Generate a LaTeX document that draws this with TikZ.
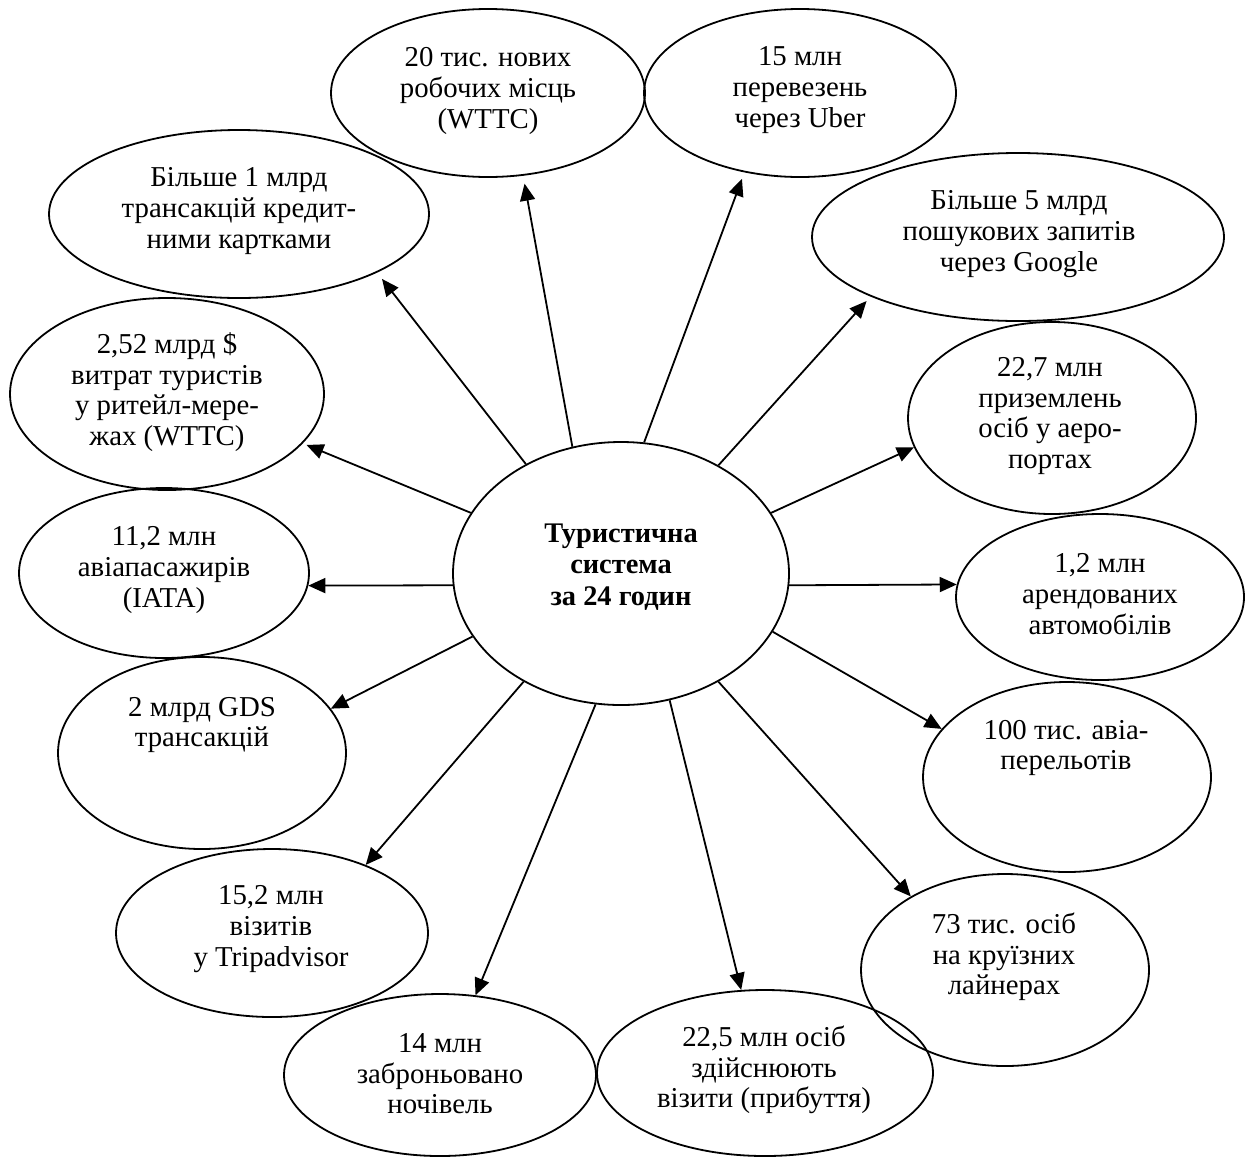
\documentclass[tikz,border=0pt]{standalone}
\usepackage{fontspec}
\setmainfont{Liberation Serif}
\usetikzlibrary{shapes.geometric,arrows.meta}

\begin{document}
\begin{tikzpicture}[x=0.5pt,y=-0.5pt,
  bubble/.style={draw, ellipse, line width=0.9pt, inner sep=0pt},
  bubtext/.style={align=center, inner sep=0pt, font=\fontsize{14.4pt}{15.3pt}\selectfont},
  hubtext/.style={align=center, inner sep=0pt, font=\bfseries\fontsize{14.2pt}{15.6pt}\selectfont},
  link/.style={line width=0.9pt, -{Triangle[length=8.5pt,width=7.5pt]}}]

\useasboundingbox (0,0) rectangle (1245,1157);

% central ellipse
\node[bubble, minimum width=168pt, minimum height=131.5pt] (hub) at (621,573.5) {};
\node[hubtext] (hubt) at (621,567) {Туристична\\система\\за 24 годин};

% surrounding ellipses (minimum width/height in pt = radii in px)
\node[bubble, minimum width=157pt, minimum height=84pt] (n1) at (488,93) {};
\node[bubble, minimum width=156pt, minimum height=84pt] (n2) at (800,93) {};
\node[bubble, minimum width=190pt, minimum height=84pt] (n3) at (239,214) {};
\node[bubble, minimum width=206pt, minimum height=84pt] (n4) at (1018,237) {};
\node[bubble, minimum width=157pt, minimum height=96pt] (n5) at (167,394) {};
\node[bubble, minimum width=144pt, minimum height=96pt] (n6) at (1052,418) {};
\node[bubble, minimum width=145pt, minimum height=85pt] (n7) at (164,573) {};
\node[bubble, minimum width=144pt, minimum height=83pt] (n8) at (1100,597) {};
\node[bubble, minimum width=144pt, minimum height=96pt] (n9) at (202,753) {};
\node[bubble, minimum width=144pt, minimum height=95pt] (n10) at (1067,777) {};
\node[bubble, minimum width=156pt, minimum height=84pt] (n11) at (272,933) {};
\node[bubble, minimum width=144pt, minimum height=96pt] (n12) at (1005,970) {};
\node[bubble, minimum width=156pt, minimum height=81pt] (n13) at (440,1075) {};
\node[bubble, minimum width=168pt, minimum height=83pt] (n14) at (765,1073) {};

% texts
\node[bubtext] (t1) at (488,91) {20 тис. нових\\робочих місць\\(WTTC)};
\node[bubtext] (t2) at (800,90) {15 млн\\перевезень\\через Uber};
\node[bubtext] (t3) at (239,211) {Більше 1 млрд\\трансакцій кредит-\\ними картками};
\node[bubtext] (t4) at (1019,234) {Більше 5 млрд\\пошукових запитів\\через Google};
\node[bubtext] (t5) at (167,392) {2,52 млрд \$\\витрат туристів\\у ритейл-мере-\\жах (WTTC)};
\node[bubtext] (t6) at (1050,416) {22,7 млн\\приземлень\\осіб у аеро-\\портах};
\node[bubtext] (t7) at (164,570) {11,2 млн\\авіапасажирів\\(IATA)};
\node[bubtext] (t8) at (1100,594) {1,2 млн\\арендованих\\автомобілів};
\node[bubtext] (t9) at (202,725) {2 млрд GDS\\трансакцій};
\node[bubtext] (t10) at (1066,748) {100 тис. авіа-\\перельотів};
\node[bubtext] (t11) at (271,929) {15,2 млн\\візитів\\у Tripadvisor};
\node[bubtext] (t12) at (1004,957) {73 тис. осіб\\на круїзних\\лайнерах};
\node[bubtext] (t13) at (440,1074) {14 млн\\заброньовано\\ночівель};
\node[bubtext] (t14) at (764,1070) {22,5 млн осіб\\здійснюють\\візити (прибуття)};

% arrows from the hub
\draw[link, shorten >=4pt] (hub.111.4) -- (n1.-67.8);
\draw[link, shorten >=3.5pt] (hub.80.1) -- (n2.-125);
\draw[link, shorten >=4pt] (hub.131.8) -- (n3.-23.5);
\draw[link, shorten >=3pt] (hub.48.5) -- (n4.-158.6);
\draw[link, shorten >=2pt] (hub.158) -- (n5.-20.2);
\draw[link] (hub.22.3) -- (n6.-168.6);
\draw[link] (hub.184.3) -- (n7.-5.2);
\draw[link] (hub.-4.3) -- (n8.175.7);
\draw[link] (hub.203.4) -- (n9.19.9);
\draw[link] (hub.-21.5) -- (n10.159.3);
\draw[link] (hub.228.2) -- (n11.36.1);
\draw[link] (hub.-48.8) -- (n12.142.9);
\draw[link] (hub.259.2) -- (n13.66.3);
\draw[link] (hub.-69.9) -- (n14.106.8);

\end{tikzpicture}
\end{document}
